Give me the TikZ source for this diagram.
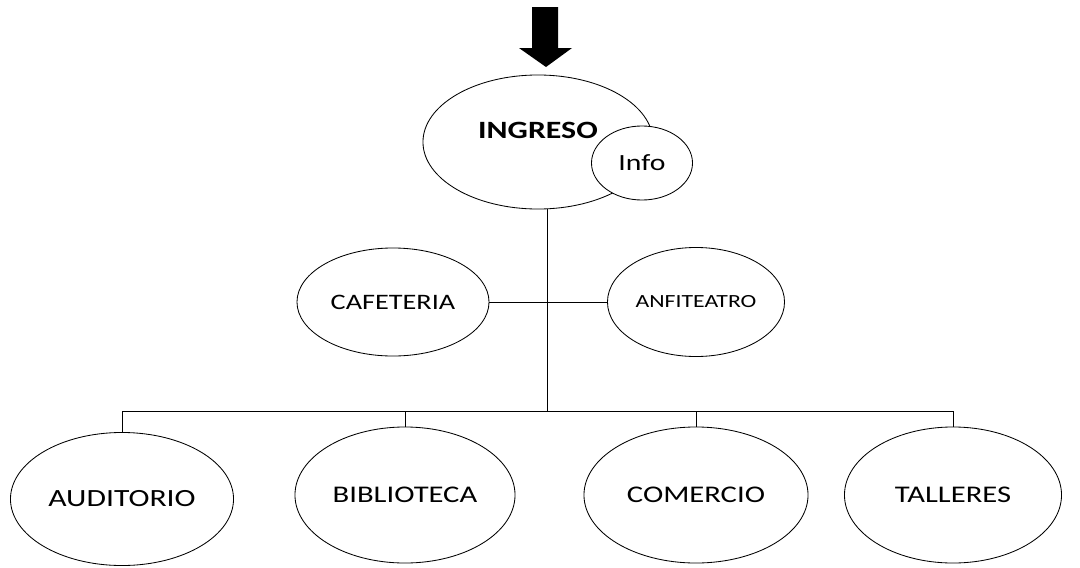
\documentclass[tikz,border=0pt]{standalone}
\usepackage{fontspec}
\setmainfont{Carlito}[FakeStretch=1.28]
\usetikzlibrary{shapes.geometric}

\tikzset{
  bubble/.style={draw, ellipse, line width=0.6pt, inner sep=0pt, fill=white, font=\fontsize{17}{20}\selectfont},
  wire/.style={line width=0.6pt},
}

\begin{document}
\begin{tikzpicture}[x=0.025cm, y=-0.025cm]
\useasboundingbox (0, 0) rectangle (1080, 567);
% entrance arrow
\fill (532, 7) -- (558, 7) -- (558, 48) -- (572, 48) -- (546, 67) -- (519, 48) -- (532, 48) -- cycle;
\node[bubble, minimum width=5.75cm, minimum height=3.35cm] (ingreso) at (538, 142) {};
\node[font=\fontsize{17.7}{20}\selectfont\bfseries] (ingresotxt) at (538, 130) {INGRESO};
\node[bubble, minimum width=2.525cm, minimum height=1.85cm, font=\fontsize{16.5}{19}\selectfont] (info) at (642, 163) {Info};
\node[bubble, minimum width=4.8cm, minimum height=2.7cm, font=\fontsize{15.7}{18}\selectfont] (cafe) at (393, 302) {CAFETERIA};
\node[bubble, minimum width=4.425cm, minimum height=2.725cm, font=\fontsize{13.2}{16}\selectfont] (anfi) at (696, 302) {ANFITEATRO};
\node[bubble, minimum width=5.575cm, minimum height=3.325cm, font=\fontsize{17.6}{20}\selectfont] (audi) at (122, 499) {AUDITORIO};
\node[bubble, minimum width=5.5cm, minimum height=3.4cm] (biblio) at (405, 495) {BIBLIOTECA};
\node[bubble, minimum width=5.6cm, minimum height=3.4cm] (comercio) at (696, 495) {COMERCIO};
\node[bubble, minimum width=5.425cm, minimum height=3.4cm] (talleres) at (953, 495) {TALLERES};
\coordinate (trunk) at (547, 411);
% connectors
\draw[wire] (ingreso.south -| trunk) -- (trunk);
\draw[wire] (cafe.east) -- (anfi.west);
\draw[wire] (audi.north) -- (audi.north |- trunk) -- (talleres.north |- trunk) -- (talleres.north);
\draw[wire] (biblio.north) -- (biblio.north |- trunk);
\draw[wire] (comercio.north) -- (comercio.north |- trunk);
\end{tikzpicture}
\end{document}
